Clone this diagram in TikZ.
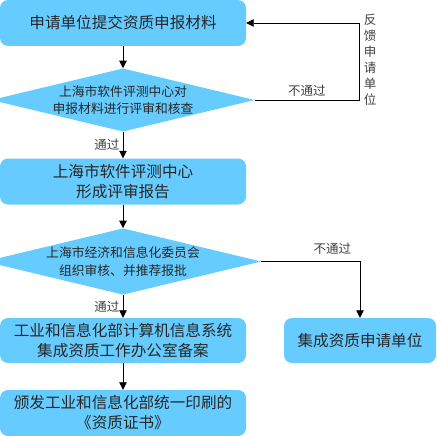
\documentclass[tikz,border=0pt]{standalone}
\usepackage{fontspec}
\setmainfont{Noto Sans CJK SC}
\usetikzlibrary{shapes.geometric,arrows.meta,positioning}
\definecolor{boxblue}{HTML}{66CCFF}

\begin{document}
\begin{tikzpicture}[
    x = 1pt, y = 1pt,
    stepbox/.style = {rectangle, rounded corners=8pt, fill=boxblue,
      minimum width=246pt, minimum height=46pt, inner sep=0pt,
      align=center, text=black!85,
      font=\fontsize{15.6}{20}\selectfont},
    check/.style   = {diamond, shape aspect=4.17, fill=boxblue,
      minimum width=246pt, minimum height=59pt, inner sep=0pt,
      align=center, text=black!85,
      font=\fontsize{12.8}{17.5}\selectfont},
    link/.style    = {draw, line width=0.8pt,
      -{Triangle[length=7.5pt,width=7.5pt]}},
    lbl/.style     = {font=\fontsize{12.5}{14}\selectfont, text=black!75}
  ]
  \useasboundingbox (0,0) rectangle (436,-436);
  % main column
  \node [stepbox] (submit) at (123,-23) {申请单位提交资质申报材料};
  \node [check] (review) at (123,-100) {上海市软件评测中心对\\申报材料进行评审和核查};
  \node [stepbox] (report) at (123,-181.5) {上海市软件评测中心\\形成评审报告};
  \node [check] (approve) at (123,-261.5) {上海市经济和信息化委员会\\组织审核、并推荐报批};
  \node [stepbox, minimum height=45pt] (record) at (123,-340.5)
    {工业和信息化部计算机信息系统\\集成资质工作办公室备案};
  \node [stepbox] (cert) at (123,-413) {颁发工业和信息化部统一印刷的\\《资质证书》};
  % right side
  \node [stepbox, minimum width=152pt, minimum height=45pt] (applicant)
    at (360,-340.5) {集成资质申请单位};
  \coordinate (back) at (359,-23);
  \node [lbl, align=center, font=\fontsize{12.5}{16}\selectfont] (feedback)
    at (370,-60) {反\\馈\\申\\请\\单\\位};
  % connectors
  \draw [link] (submit) -- (review);
  \draw [link] (review) -- node [lbl, left] {通过} (report);
  \draw [link] (review.east) -| node [lbl, pos=0.25, above] {不通过}
    (back) -- (submit.east);
  \draw [link] (report) -- (approve);
  \draw [link] (approve) -- node [lbl, left] {通过} (record);
  \draw [link] (approve.east) -| node [lbl, pos=0.36, above=3pt] {不通过}
    (applicant.north);
  \draw [link] (record) -- (cert);
\end{tikzpicture}
\end{document}
